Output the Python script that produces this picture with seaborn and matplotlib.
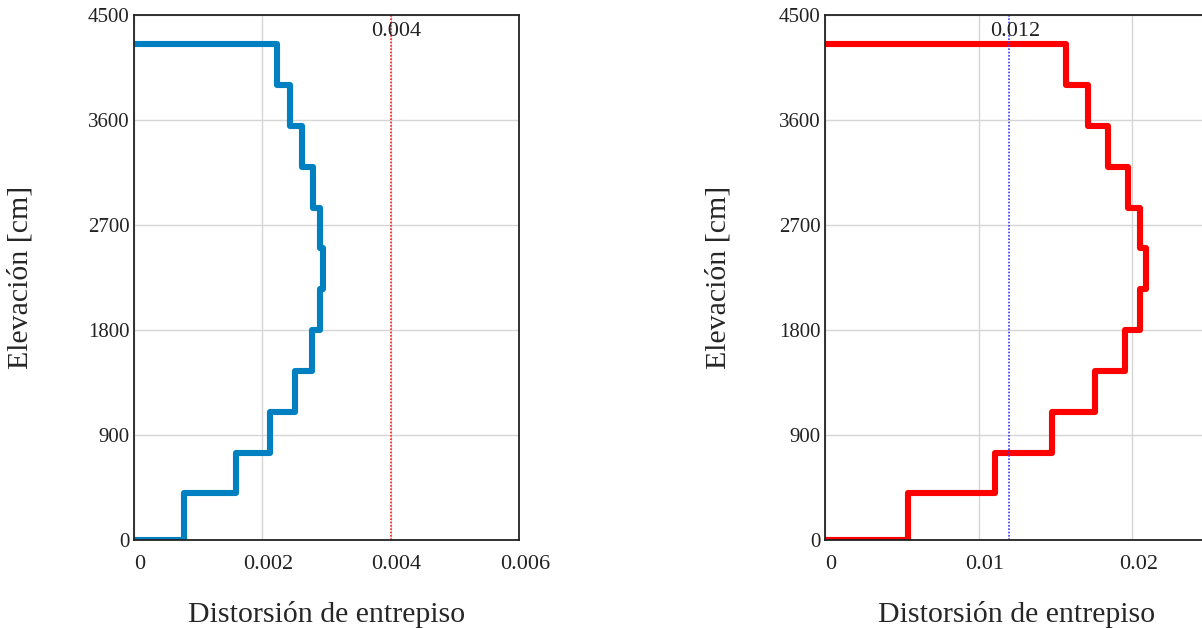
import numpy as np
import pandas as pd
import matplotlib
matplotlib.use("Agg")
import matplotlib.pyplot as plt
import matplotlib.transforms as mtransforms
import seaborn as sns

# ---- data ----
elevations = [0, 400, 750, 1100, 1450, 1800, 2150, 2500, 2850, 3200, 3550, 3900, 4250]
drift_x = [0.00079, 0.00159, 0.00212, 0.00252, 0.00278, 0.00290,
           0.00295, 0.00290, 0.00280, 0.00263, 0.00244, 0.00224]
drift_y = [0.0054, 0.0111, 0.0148, 0.0176, 0.0195, 0.0205,
           0.0209, 0.0205, 0.0197, 0.0184, 0.0171, 0.0157]
limit_x = 0.004
limit_y = 0.012
limit_x_label = "0.004"
limit_y_label = "0.012"
yticks = [0, 900, 1800, 2700, 3600, 4500]
xticks_left = [0, 0.002, 0.004, 0.006]
xtick_labels_left = ["0", "0.002", "0.004", "0.006"]
xticks_right = [0, 0.01, 0.02]
xtick_labels_right = ["0", "0.01", "0.02"]
xlabel = "Distorsión de entrepiso"
ylabel = "Elevación [cm]"


def step_frame(drifts, elev):
    xs, ys = [0.0], [elev[0]]
    for i, d in enumerate(drifts):
        xs += [d, d]
        ys += [elev[i], elev[i + 1]]
    xs.append(0.0)
    ys.append(elev[-1])
    return pd.DataFrame({"drift": xs, "elev": ys})


sns.set_theme(style="white")
plt.rcParams["font.family"] = ["Liberation Serif", "DejaVu Serif"]

W, H = 1202, 628
fig = plt.figure(figsize=(W / 100, H / 100), dpi=100)
fig.patch.set_facecolor("white")

ax1 = fig.add_axes([133.5 / W, (H - 540) / H, 385.5 / W, 525 / H])
ax2 = fig.add_axes([825 / W, (H - 540) / H, 384 / W, 525 / H])

shift = mtransforms.ScaledTranslation(6 / 100, 0, fig.dpi_scale_trans)


def style_axes(ax, xmax, xticks, xlabels):
    ax.set_xlim(0, xmax)
    ax.set_ylim(0, 4500)
    ax.set_yticks(yticks)
    ax.set_yticklabels([str(v) for v in yticks])
    ax.set_xticks(xticks)
    ax.set_xticklabels(xlabels)
    ax.grid(True, color="#d6d6d6", linewidth=1.0)
    ax.set_axisbelow(True)
    for s in ax.spines.values():
        s.set_visible(True)
        s.set_color("#222222")
        s.set_linewidth(1.3)
    ax.tick_params(axis="y", labelsize=15, labelcolor="#222222",
                   length=3, width=0.8, direction="out", pad=0, color="#cccccc")
    ax.tick_params(axis="x", labelsize=16, labelcolor="#222222", pad=11, length=0)
    for lab in ax.get_xticklabels():
        lab.set_transform(lab.get_transform() + shift)
    ax.set_xlabel(xlabel, fontsize=21.5)
    ax.xaxis.label.set_va("center")
    ax.xaxis.set_label_coords(0.5, (540 - 614) / 525)
    ax.set_ylabel(ylabel, fontsize=21.5)
    ax.yaxis.label.set_va("center")


df1 = step_frame(drift_x, elevations)
df2 = step_frame(drift_y, elevations)

sns.lineplot(data=df1, x="drift", y="elev", sort=False, estimator=None,
             color="#0080C0", linewidth=4.4, ax=ax1)
ax1.axvline(limit_x, color="#ff2020", linestyle=(0, (1.0, 1.0)), linewidth=1.2)
ax1.annotate(limit_x_label, xy=(limit_x, 4500), xytext=(4.3, -12),
             textcoords="offset points", ha="center", va="center",
             fontsize=16, color="#222222")
style_axes(ax1, 0.006, xticks_left, xtick_labels_left)
ax1.yaxis.set_label_coords((21 - 133.5) / 385.5, 0.5)

sns.lineplot(data=df2, x="drift", y="elev", sort=False, estimator=None,
             color="#FF0000", linewidth=4.4, ax=ax2)
ax2.axvline(limit_y, color="#3a3aff", linestyle=(0, (1.0, 1.0)), linewidth=1.2)
ax2.annotate(limit_y_label, xy=(limit_y, 4500), xytext=(4.3, -12),
             textcoords="offset points", ha="center", va="center",
             fontsize=16, color="#222222")
style_axes(ax2, 0.025, xticks_right, xtick_labels_right)
ax2.yaxis.set_label_coords((719 - 825) / 384, 0.5)

for ax in (ax1, ax2):
    ax.get_lines()[0].set_solid_joinstyle("round")
    ax.get_lines()[0].set_solid_capstyle("butt")

fig.savefig("out.png", dpi=100, facecolor="white")
